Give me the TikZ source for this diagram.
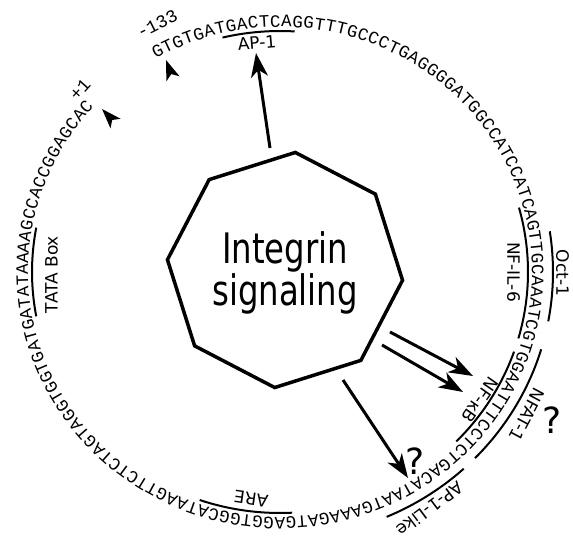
\documentclass[tikz,border=0pt]{standalone}
\usepackage{fontspec}
\newfontfamily\seqfont{Liberation Mono}
\newfontfamily\labfont{DejaVu Sans}
\newfontfamily\sigfont[FakeStretch=0.77]{DejaVu Sans}
\usetikzlibrary{decorations.text,arrows.meta,shapes.geometric}
\begin{document}
\begin{tikzpicture}[x=1pt,y=1pt,
  site/.style={line width=2pt},
  lab/.style={font=\labfont\fontsize{17}{17}\selectfont, inner sep=0pt},
  num/.style={font=\seqfont\fontsize{18}{18}\selectfont, inner sep=0pt},
  qmark/.style={font=\labfont\fontsize{36}{36}\selectfont, inner sep=0pt},
  octa/.style={regular polygon, regular polygon sides=8, minimum size=236pt,
    draw, line width=3.5pt, shape border rotate=17.5, inner sep=0pt},
  sigtext/.style={font=\sigfont\fontsize{42}{37}\selectfont, align=center, inner sep=0pt},
  arr/.style={line width=3pt, -{Stealth[length=24pt,width=17pt,inset=7pt]}},
  tick/.style={fill=black}]
\useasboundingbox (0,0) rectangle (573,544);

% DNA sequence around the ring
\path[decorate, decoration={text along path,
  text={|\seqfont\fontsize{17.5}{17.5}\selectfont|GTGTGATGACTCAGGTTTGCCCTGAGGGGATGGCCATCCATCAGTTGCAAATCGTGGAATTTCCTCTGACATAATGAAAGATGAGGTGGCATAAGTTCTCTAGTAGGTGGTGATGATATAAAAGCCACCGGAGCAC},
  text align={fit to path}}]
  (280,272) ++(119.6:252 and 245) arc[start angle=119.6, end angle=-222.4, x radius=252, y radius=245];

% binding site arcs (inner)
\draw[site] (280,272) ++(103.4:248 and 241) arc[start angle=103.4, end angle=86.6, x radius=248, y radius=241];
\draw[site] (280,272) ++(15.5:248 and 241) arc[start angle=15.5, end angle=-16, x radius=248, y radius=241];
\draw[site] (280,272) ++(-19.3:248 and 241) arc[start angle=-19.3, end angle=-44.7, x radius=248, y radius=241];
\draw[site] (280,272) ++(-87.2:248 and 241) arc[start angle=-87.2, end angle=-108.9, x radius=248, y radius=241];
\draw[site] (280,272) ++(169.4:248 and 241) arc[start angle=169.4, end angle=190.6, x radius=248, y radius=241];
% binding site arcs (outer)
\draw[site] (280,272) ++(8.8:273 and 266) arc[start angle=8.8, end angle=-10.7, x radius=273, y radius=266];
\draw[site] (280,272) ++(-16.9:273 and 266) arc[start angle=-16.9, end angle=-44.4, x radius=273, y radius=266];
\draw[site] (280,272) ++(-47.7:273 and 266) arc[start angle=-47.7, end angle=-67, x radius=273, y radius=266];

% central octagon
\node[octa] (oct) at (285,274) {};
\node[sigtext] (sig) at (285,271) {Integrin\\signaling};

% labels
\node[num, rotate=26.6] (m133) at (157,520) {-133};
\node[num, rotate=47.9] (p1) at (80,454) {+1};
\node[lab, rotate=5] (ap1) at (257,501) {AP-1};
\node[lab, rotate=-90] (nfil6) at (513.5,272) {NF-IL-6};
\node[lab, rotate=-90] (oct1) at (562.5,271) {Oct-1};
\node[lab, rotate=-125] (nfkb) at (480,144) {NF-κB};
\node[lab, rotate=-118] (nfat) at (527,129) {NFAT-1};
\node[qmark] (q1) at (552,124) {?};
\node[lab, rotate=-143] (ap1l) at (430,35) {AP-1-Like};
\node[qmark] (q2) at (415,83) {?};
\node[lab, rotate=172] (are) at (251,45) {ARE};
\node[lab, rotate=90] (tata) at (51.5,269.5) {TATA Box};

% small arrowheads marking -133 and +1
\fill[tick] (166,484) -- (179.6,467.7) -- (171.3,469.9) -- (166.4,462.7) -- cycle;
\fill[tick] (102,435) -- (120.7,425.2) -- (112.2,424) -- (110.5,415.6) -- cycle;

% arrows
\coordinate (a1s) at (270,396);
\coordinate (a1e) at (256,491);
\coordinate (a2s) at (390,212);
\coordinate (a2e) at (473,168);
\coordinate (a3s) at (382,199);
\coordinate (a3e) at (463,152);
\coordinate (a4s) at (343,164);
\coordinate (a4e) at (408,66);
\draw[arr] (a1s) -- (a1e);
\draw[arr] (a2s) -- (a2e);
\draw[arr] (a3s) -- (a3e);
\draw[arr] (a4s) -- (a4e);
\end{tikzpicture}
\end{document}
